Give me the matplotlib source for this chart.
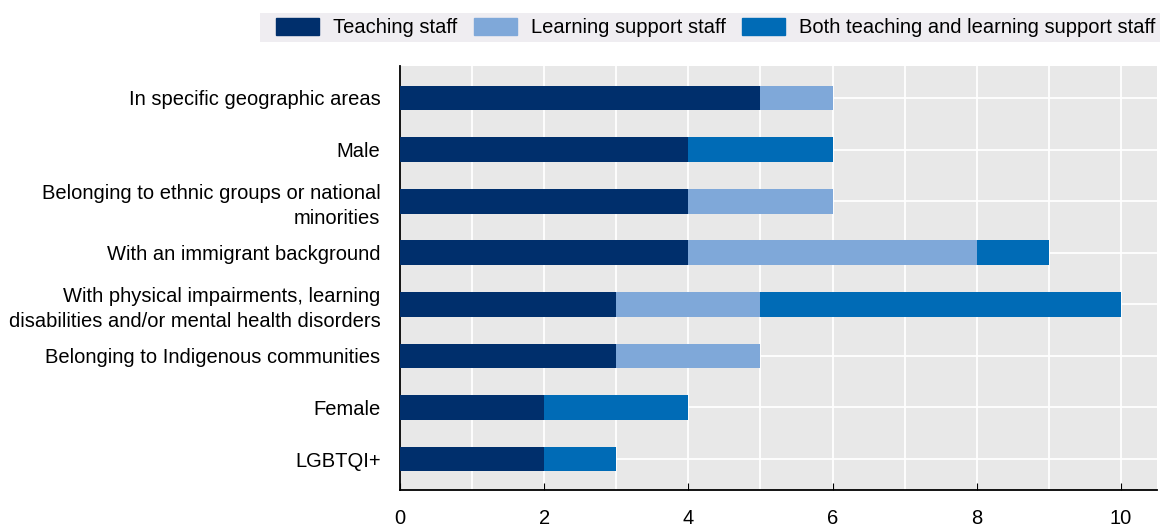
import matplotlib
matplotlib.use("Agg")
import matplotlib.pyplot as plt
from matplotlib.patches import Patch, Rectangle

plt.rcParams['font.family'] = ['Liberation Sans', 'DejaVu Sans']

categories = [
    "In specific geographic areas",
    "Male",
    "Belonging to ethnic groups or national\nminorities",
    "With an immigrant background",
    "With physical impairments, learning\ndisabilities and/or mental health disorders",
    "Belonging to Indigenous communities",
    "Female",
    "LGBTQI+",
]
teaching = [5, 4, 4, 4, 3, 3, 2, 2]
learning = [1, 0, 2, 4, 2, 2, 0, 0]
both = [0, 2, 0, 1, 5, 0, 2, 1]
series_names = ["Teaching staff", "Learning support staff", "Both teaching and learning support staff"]
colors = ["#002F6C", "#7FA8D9", "#006BB6"]

W, H = 1162, 528
fig = plt.figure(figsize=(W/100, H/100), dpi=100)
ax = fig.add_axes([400/W, 1 - 490/H, 757/W, (490-66)/H])
ax.set_facecolor("#E8E8E8")

y = list(range(len(categories)))
h = 0.48
left = [0]*len(y)
for vals, c in zip([teaching, learning, both], colors):
    ax.barh(y, vals, left=left, height=h, color=c, zorder=3)
    left = [l + v for l, v in zip(left, vals)]

ax.set_xlim(0, 10.5)
ax.set_ylim(7.6, -0.62)
ax.set_yticks(y)
ax.set_yticklabels(categories, fontsize=14.5, linespacing=1.4)
ax.set_xticks([0, 2, 4, 6, 8, 10])
ax.set_xticks(range(0, 11), minor=True)
ax.tick_params(axis='x', which='major', direction='in', length=5, labelsize=14.5, pad=14, color='black')
ax.tick_params(axis='x', which='minor', length=0)
ax.tick_params(axis='y', direction='in', length=5, pad=14)
ax.grid(True, which='both', axis='x', color='white', linewidth=1.3, zorder=1)
ax.grid(True, axis='y', color='white', linewidth=1.3, zorder=1)
ax.set_axisbelow(True)
for s in ['top', 'right']:
    ax.spines[s].set_visible(False)
ax.spines['left'].set_linewidth(1.3)
ax.spines['bottom'].set_linewidth(1.3)

# legend background band
fig.patches.append(Rectangle((260/W, 1 - 42/H), (1160-260)/W, 29/H,
                             transform=fig.transFigure, facecolor="#EFEDF1",
                             edgecolor='none', zorder=0))

handles = [Patch(facecolor=c, edgecolor=c) for c in colors]
leg = fig.legend(handles, series_names, loc='center left', bbox_to_anchor=(276/W, 1 - 27.5/H),
                 ncol=3, frameon=False, fontsize=14.5, handlelength=2.15, handleheight=0.95,
                 columnspacing=0.82, handletextpad=0.68, borderpad=0, borderaxespad=0)

fig.savefig("out.png", dpi=100)
